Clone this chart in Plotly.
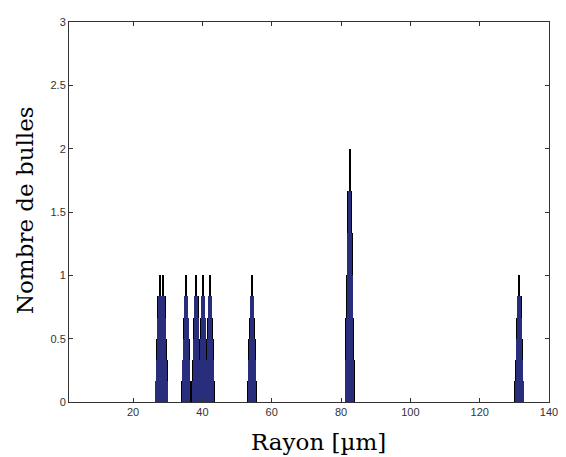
import plotly.graph_objects as go

# Data: bubble radii (µm) and counts
radius = [27.7, 28.7, 35.3, 38.2, 40.2, 42.2, 54.3, 82.5, 131.4]
count = [1, 1, 1, 1, 1, 1, 1, 2, 1]
x_ticks = [20, 40, 60, 80, 100, 120, 140]
y_ticks = [0, 0.5, 1, 1.5, 2, 2.5, 3]

FILL = "#282d7c"
BASE_W = 2.5
TAPER = 0.6
N_STEPS = 6      # vertical subdivision of each bar
N_FILLED = 5     # filled steps, topmost step only drawn as a thin line

fig = go.Figure()

# thin spikes up to the full count
fig.add_trace(go.Bar(x=radius, y=count, width=[0.2] * len(radius),
                     marker=dict(color="black", line=dict(width=0)),
                     showlegend=False, hoverinfo="skip"))

def step_width(i):
    return BASE_W * (1 - TAPER * i / (N_FILLED - 1))

# stepped (tapered) histogram bars: black edge layer then fill layer
for edge in (True, False):
    for i in range(N_FILLED):
        w = step_width(i) + (0.35 if edge else 0.0)
        fig.add_trace(go.Bar(
            x=radius,
            y=[c / N_STEPS for c in count],
            base=[c * i / N_STEPS for c in count],
            width=[w] * len(radius),
            marker=dict(color="black" if edge else FILL, line=dict(width=0)),
            showlegend=False, hoverinfo="skip"))

axis_common = dict(showline=True, linecolor="#333", linewidth=1, mirror="ticks",
                   ticks="inside", ticklen=4, tickcolor="#333", showgrid=False,
                   zeroline=False, tickfont=dict(family="Liberation Sans, Arial", size=11, color="#333"))

fig.update_layout(
    width=558, height=449,
    margin=dict(l=61, r=17, t=8, b=55),
    paper_bgcolor="white", plot_bgcolor="white",
    barmode="overlay", bargap=0,
    xaxis=dict(range=[1.5, 140], tickvals=x_ticks, ticktext=[str(v) for v in x_ticks], **axis_common),
    yaxis=dict(range=[0, 3], tickvals=y_ticks, ticktext=[("%g" % v) for v in y_ticks], **axis_common),
    annotations=[
        dict(text="Rayon [µm]", x=0.5, xref="paper", xshift=9, y=0, yref="paper", yshift=-40,
             xanchor="center", yanchor="middle", showarrow=False,
             font=dict(family="DejaVu Serif", size=23, color="black")),
        dict(text="Nombre de bulles", x=0, xref="paper", xshift=-44, y=0.505, yref="paper",
             xanchor="center", yanchor="middle", showarrow=False, textangle=-90,
             font=dict(family="DejaVu Serif", size=23, color="black")),
    ],
)

fig.write_html("out.html")
